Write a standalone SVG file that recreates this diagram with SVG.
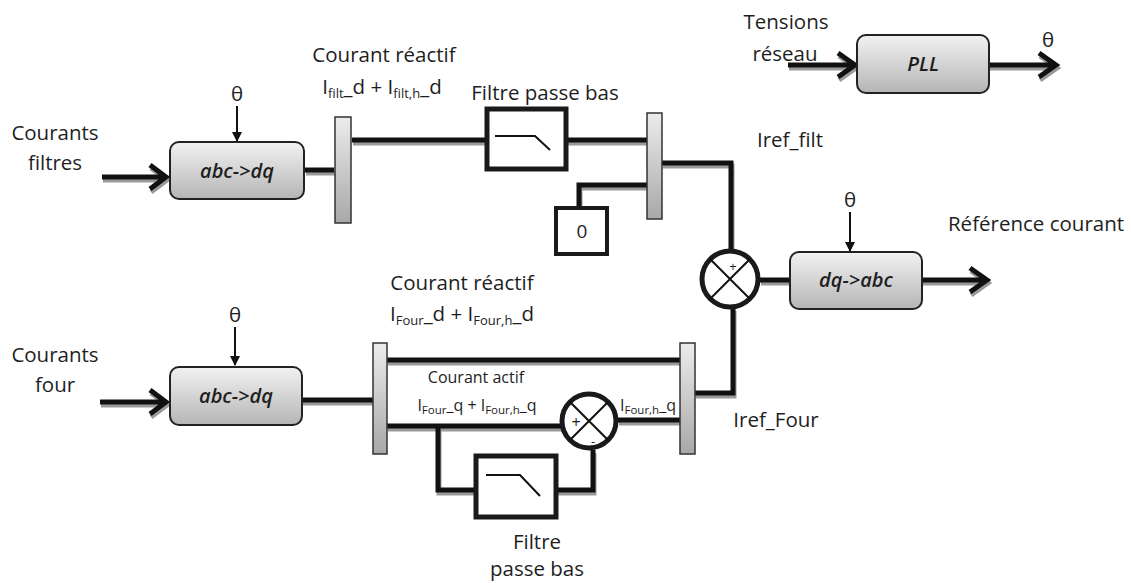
<svg xmlns="http://www.w3.org/2000/svg" width="1131" height="583" viewBox="0 0 1131 583">
<style>
text{font-family:"Open Sans","Liberation Sans",sans-serif;fill:#1e1e1e;font-size:20.5px}
.it{font-style:italic;font-size:20px;font-weight:600}
.sm{font-size:16px}
.sub{font-size:13px}
.ssub{font-size:11.5px}
.w{fill:none;stroke:#111;stroke-width:5;stroke-linejoin:miter;stroke-linecap:butt}
.sh{fill:none;stroke:#9a9a9a;stroke-width:5;stroke-linejoin:miter}
.thin{fill:none;stroke:#111;stroke-width:2}
.blk{fill:url(#g1);stroke:#222;stroke-width:2}
.bar{fill:url(#g2);stroke:#333;stroke-width:1.5}
.flt{fill:#fff;stroke:#1a1a1a;stroke-width:5}
.sum{fill:#fff;stroke:#1a1a1a;stroke-width:5}
</style>
<defs>
<linearGradient id="g1" x1="0" y1="0" x2="0" y2="1"><stop offset="0" stop-color="#f2f2f2"/><stop offset="1" stop-color="#b5b5b5"/></linearGradient>
<linearGradient id="g2" x1="0" y1="0" x2="0" y2="1"><stop offset="0" stop-color="#ececec"/><stop offset="1" stop-color="#a8a8a8"/></linearGradient>
<marker id="ah" markerWidth="10" markerHeight="10" refX="9" refY="5" orient="auto" markerUnits="userSpaceOnUse"><path d="M0,0 L10,5 L0,10 Z" fill="#111"/></marker>
</defs>

<g id="connectors">
<g transform="translate(1,3)">
<path class="sh" d="M102,177 H166 M150,165 L166,177 L150,189"/>
<path class="sh" d="M305,170 H334"/>
<path class="sh" d="M352,140 H486 M566,140 H647"/>
<path class="sh" d="M662,163 H731 V249"/>
<path class="sh" d="M579,207 V185 H647"/>
<path class="sh" d="M760,280 H790"/>
<path class="sh" d="M922,280 H987 M970,268 L987,280 L970,292"/>
<path class="sh" d="M788,65 H855 M838,53 L855,65 L838,77"/>
<path class="sh" d="M989,65 H1056 M1039,53 L1056,65 L1039,77"/>
<path class="sh" d="M100,402 H166 M150,390 L166,402 L150,414"/>
<path class="sh" d="M302,400 H373"/>
<path class="sh" d="M387,360 H680"/>
<path class="sh" d="M387,426 H561 M618,420 H680"/>
<path class="sh" d="M438,426 V490 H476 M556,490 H593 V450"/>
<path class="sh" d="M695,393 H733 V308"/>
</g>
<path class="w" d="M102,177 H166 M150,165 L166,177 L150,189"/>
<path class="w" d="M305,170 H334"/>
<path class="w" d="M352,140 H486 M566,140 H647"/>
<path class="w" d="M662,163 H731 V249"/>
<path class="w" d="M579,207 V185 H647"/>
<path class="w" d="M760,280 H790"/>
<path class="w" d="M922,280 H987 M970,268 L987,280 L970,292"/>
<path class="w" d="M788,65 H855 M838,53 L855,65 L838,77"/>
<path class="w" d="M989,65 H1056 M1039,53 L1056,65 L1039,77"/>
<path class="w" d="M100,402 H166 M150,390 L166,402 L150,414"/>
<path class="w" d="M302,400 H373"/>
<path class="w" d="M387,360 H680"/>
<path class="w" d="M387,426 H561 M618,420 H680"/>
<path class="w" d="M438,426 V490 H476 M556,490 H593 V450"/>
<path class="w" d="M695,393 H733 V308"/>
<line class="thin" x1="237" y1="106" x2="237" y2="141" marker-end="url(#ah)"/>
<line class="thin" x1="235" y1="327" x2="235" y2="365" marker-end="url(#ah)"/>
<line class="thin" x1="850" y1="212" x2="850" y2="251" marker-end="url(#ah)"/>
</g>

<g id="in-filt">
<text x="55" y="140" text-anchor="middle">Courants</text>
<text x="55" y="170" text-anchor="middle">filtres</text>
</g>
<g id="theta1"><text x="237" y="101" text-anchor="middle">θ</text></g>
<g id="abcdq1">
<rect class="blk" x="170" y="142" width="134" height="57" rx="9"/>
<text class="it" x="237" y="178" text-anchor="middle">abc-&gt;dq</text>
</g>
<g id="mux1">
<rect class="bar" x="335" y="117" width="16" height="106"/>
<text x="384" y="62" text-anchor="middle">Courant réactif</text>
<text x="382" y="94" text-anchor="middle">I<tspan class="sub" dy="4">filt</tspan><tspan dy="-4">_d + I</tspan><tspan class="sub" dy="4">filt,h</tspan><tspan dy="-4">_d</tspan></text>
</g>
<g id="filter1">
<rect class="flt" x="487" y="109" width="79" height="60"/>
<path class="thin" d="M495,136 H535 L550,150"/>
<text x="545" y="100" text-anchor="middle">Filtre passe bas</text>
</g>
<g id="mux2">
<rect class="bar" x="647" y="113" width="15" height="106"/>
<text x="790" y="147" text-anchor="middle">Iref_filt</text>
</g>
<g id="zero">
<rect x="556" y="208" width="51" height="46" fill="#fff" stroke="#1a1a1a" stroke-width="4"/>
<text x="582" y="238" text-anchor="middle" style="font-size:19px">0</text>
</g>
<g id="sum1">
<circle class="sum" cx="730" cy="279" r="28"/>
<path class="thin" d="M710,259 L750,299 M750,259 L710,299"/>
<text x="733" y="271" text-anchor="middle" class="sub">+</text>
</g>
<g id="dqabc">
<rect class="blk" x="790" y="252" width="132" height="57" rx="9"/>
<text class="it" x="856" y="287" text-anchor="middle">dq-&gt;abc</text>
<text x="850" y="207" text-anchor="middle">θ</text>
<text x="1036" y="231" text-anchor="middle">Référence courant</text>
</g>
<g id="pll">
<text x="786" y="29" text-anchor="middle">Tensions</text>
<text x="785" y="61" text-anchor="middle">réseau</text>
<rect class="blk" x="857" y="35" width="132" height="58" rx="9"/>
<text class="it" x="923" y="71" text-anchor="middle">PLL</text>
<text x="1048" y="47" text-anchor="middle">θ</text>
</g>
<g id="in-four">
<text x="55" y="362" text-anchor="middle">Courants</text>
<text x="55" y="392" text-anchor="middle">four</text>
<text x="235" y="322" text-anchor="middle">θ</text>
</g>
<g id="abcdq2">
<rect class="blk" x="170" y="367" width="132" height="58" rx="9"/>
<text class="it" x="236" y="403" text-anchor="middle">abc-&gt;dq</text>
</g>
<g id="mux3">
<rect class="bar" x="373" y="343" width="14" height="111"/>
<text x="462" y="290" text-anchor="middle">Courant réactif</text>
<text x="462" y="321" text-anchor="middle">I<tspan class="sub" dy="4">Four</tspan><tspan dy="-4">_d + I</tspan><tspan class="sub" dy="4">Four,h</tspan><tspan dy="-4">_d</tspan></text>
<text x="476" y="383" text-anchor="middle" class="sm">Courant actif</text>
<text x="477" y="411" text-anchor="middle" class="sm">I<tspan class="ssub" dy="3">Four</tspan><tspan dy="-3">_q + I</tspan><tspan class="ssub" dy="3">Four,h</tspan><tspan dy="-3">_q</tspan></text>
</g>
<g id="sum2">
<circle class="sum" cx="589" cy="421" r="27"/>
<path class="thin" d="M570,402 L608,440 M608,402 L570,440"/>
<text x="576" y="428" text-anchor="middle" class="sm">+</text>
<text x="593" y="446" text-anchor="middle" class="sub">-</text>
<text x="648" y="411" text-anchor="middle" class="sm">I<tspan class="ssub" dy="3">Four,h</tspan><tspan dy="-3">_q</tspan></text>
</g>
<g id="filter2">
<rect class="flt" x="476" y="456" width="80" height="61"/>
<path class="thin" d="M486,475 H520 L540,496"/>
<text x="537" y="549" text-anchor="middle">Filtre</text>
<text x="537" y="576" text-anchor="middle">passe bas</text>
</g>
<g id="mux4">
<rect class="bar" x="680" y="343" width="15" height="111"/>
<text x="776" y="427" text-anchor="middle">Iref_Four</text>
</g>
</svg>
